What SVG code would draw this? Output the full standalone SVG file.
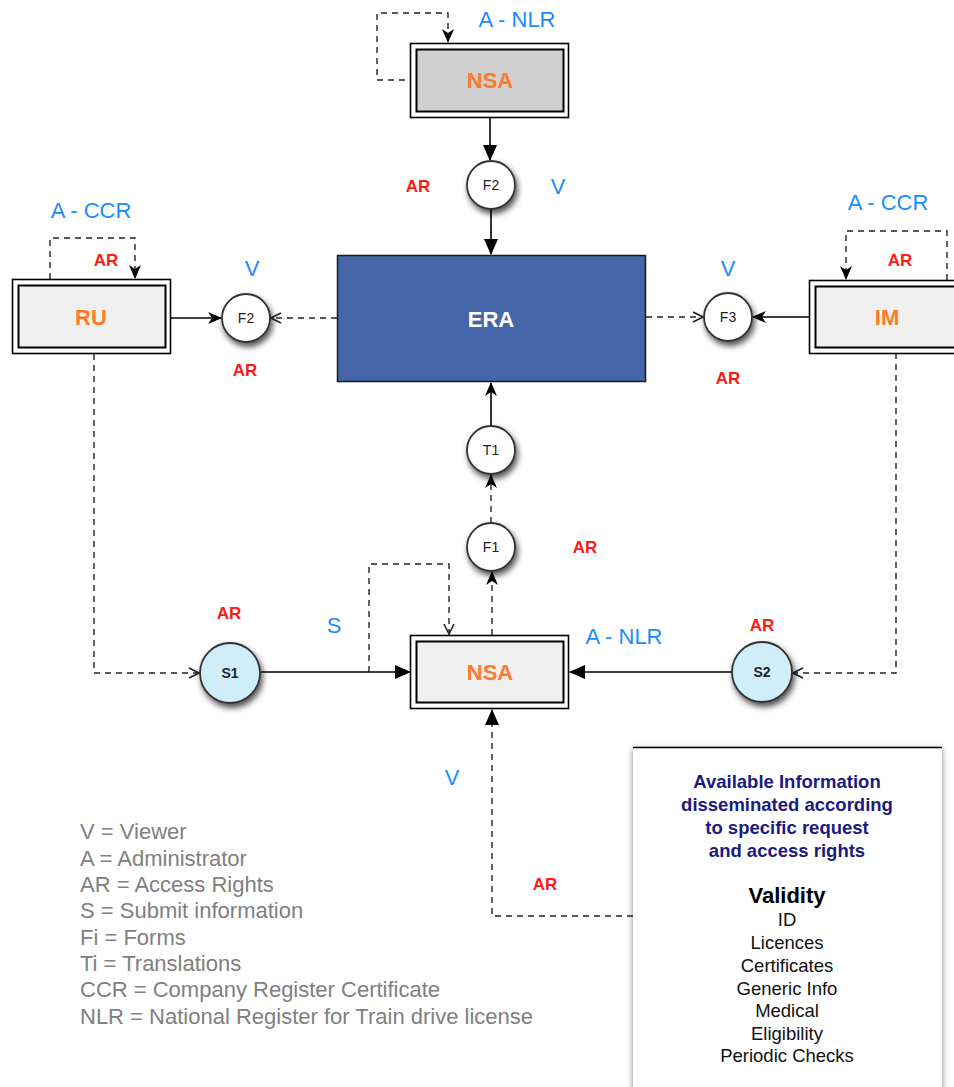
<svg xmlns="http://www.w3.org/2000/svg" width="954" height="1087" viewBox="0 0 954 1087">
<defs>
<marker id="tri" markerUnits="userSpaceOnUse" markerWidth="16" markerHeight="14" refX="15" refY="7" orient="auto"><path d="M0,0 L16,7 L0,14 z" fill="#000"/></marker>
<marker id="barb" markerUnits="userSpaceOnUse" markerWidth="14" markerHeight="12" refX="13" refY="6" orient="auto"><path d="M0,0 L14,6 L0,12 L4,6 z" fill="#000"/></marker>
<marker id="vee" markerUnits="userSpaceOnUse" markerWidth="12" markerHeight="12" refX="11" refY="6" orient="auto"><path d="M1,1 L11,6 L1,11" fill="none" stroke="#222" stroke-width="1.6"/></marker>
<filter id="sh" x="-50%" y="-50%" width="200%" height="200%"><feGaussianBlur in="SourceAlpha" stdDeviation="3"/><feOffset dx="2" dy="4"/><feComponentTransfer><feFuncA type="linear" slope="0.7"/></feComponentTransfer><feMerge><feMergeNode/><feMergeNode in="SourceGraphic"/></feMerge></filter>
<filter id="bsh" x="-10%" y="-10%" width="120%" height="120%"><feGaussianBlur in="SourceAlpha" stdDeviation="3"/><feOffset dx="0" dy="2"/><feComponentTransfer><feFuncA type="linear" slope="0.5"/></feComponentTransfer><feMerge><feMergeNode/><feMergeNode in="SourceGraphic"/></feMerge></filter>
</defs>
<style>
text{font-family:"Liberation Sans",Arial,sans-serif;}
.solid{fill:none;stroke:#000;stroke-width:1.6;}
.dash{fill:none;stroke:#222;stroke-width:1.4;stroke-dasharray:6,5;}
.outer{fill:#fff;stroke:#000;stroke-width:1.6;}
.inner{stroke:#000;stroke-width:2;}
.lbl{fill:#ff7a2a;font-weight:bold;font-size:22px;text-anchor:middle;}
.blue{fill:#1a8cff;font-size:22px;text-anchor:middle;}
.ar{fill:#ff1a1a;font-weight:bold;font-size:17px;text-anchor:middle;}
.circ{fill:#fff;stroke:#333;stroke-width:1.8;}
.ctext{font-size:14px;text-anchor:middle;fill:#222;}
.legend{fill:#808080;font-size:22px;}
.info{fill:#1a1a80;font-weight:bold;font-size:18.5px;text-anchor:middle;}
.item{fill:#111;font-size:18.5px;text-anchor:middle;}
</style>

<g id="connectors">
<polyline class="dash" points="416,80 377,80 377,13 448,13 448,42" marker-end="url(#barb)"/>
<line class="solid" x1="490" y1="117" x2="490" y2="160" marker-end="url(#tri)"/>
<line class="solid" x1="491" y1="209" x2="491" y2="254" marker-end="url(#tri)"/>
<polyline class="dash" points="50,279 50,238 135,238 135,278" marker-end="url(#barb)"/>
<line class="solid" x1="171" y1="318" x2="221" y2="318" marker-end="url(#barb)"/>
<line class="dash" x1="337" y1="318" x2="271" y2="318" marker-end="url(#vee)"/>
<polyline class="dash" points="947,280 947,231 846,231 846,279" marker-end="url(#barb)"/>
<line class="solid" x1="809" y1="317" x2="753" y2="317" marker-end="url(#barb)"/>
<line class="dash" x1="646" y1="317" x2="703" y2="317" marker-end="url(#vee)"/>
<line class="solid" x1="491" y1="426" x2="491" y2="383" marker-end="url(#barb)"/>
<line class="dash" x1="491" y1="523" x2="491" y2="475" marker-end="url(#barb)"/>
<line class="dash" x1="492" y1="635" x2="492" y2="572" marker-end="url(#barb)"/>
<polyline class="dash" points="369,672 369,564 449,564 449,634" marker-end="url(#vee)"/>
<line class="solid" x1="261" y1="672" x2="410" y2="672" marker-end="url(#tri)"/>
<line class="solid" x1="732" y1="672" x2="570" y2="672" marker-end="url(#tri)"/>
<polyline class="dash" points="94,354 94,673 199,673" marker-end="url(#vee)"/>
<polyline class="dash" points="896,353 896,673 793,673" marker-end="url(#vee)"/>
<polyline class="dash" points="633,916 492,916 492,710" marker-end="url(#tri)"/>
</g>

<g id="nsa-top">
<rect class="outer" x="410.5" y="43.5" width="158" height="74"/>
<rect class="inner" x="416.5" y="49.5" width="147" height="62" fill="#d0d0d0"/>
<text class="lbl" x="490" y="88">NSA</text>
<text class="blue" x="517" y="27">A - NLR</text>
</g>

<g id="f2-top">
<circle class="circ" cx="491" cy="185" r="24" filter="url(#sh)"/>
<text class="ctext" x="491" y="190">F2</text>
<text class="ar" x="418" y="192">AR</text>
<text class="blue" x="558" y="194">V</text>
</g>

<g id="era">
<rect x="337.5" y="255.5" width="308" height="126" fill="#4567a9" stroke="#1a1a1a" stroke-width="1.5"/>
<text x="491" y="327" fill="#fff" font-weight="bold" font-size="22" text-anchor="middle">ERA</text>
</g>

<g id="ru">
<rect class="outer" x="12.5" y="279.5" width="158" height="74"/>
<rect class="inner" x="18.5" y="285.5" width="147" height="62" fill="#f0f0f0"/>
<text class="lbl" x="91" y="325">RU</text>
<text class="blue" x="91" y="218">A - CCR</text>
<text class="ar" x="106" y="266">AR</text>
</g>

<g id="f2-left">
<circle class="circ" cx="246" cy="318" r="24" filter="url(#sh)"/>
<text class="ctext" x="246" y="323">F2</text>
<text class="blue" x="252" y="276">V</text>
<text class="ar" x="245" y="376">AR</text>
</g>

<g id="im">
<rect class="outer" x="809.5" y="280.5" width="158" height="73"/>
<rect class="inner" x="815.5" y="286.5" width="147" height="61" fill="#f0f0f0"/>
<text class="lbl" x="887" y="325">IM</text>
<text class="blue" x="888" y="210">A - CCR</text>
<text class="ar" x="900" y="266">AR</text>
</g>

<g id="f3">
<circle class="circ" cx="728" cy="317" r="24" filter="url(#sh)"/>
<text class="ctext" x="728" y="322">F3</text>
<text class="blue" x="728" y="276">V</text>
<text class="ar" x="728" y="384">AR</text>
</g>

<g id="t1">
<circle class="circ" cx="491" cy="450" r="24" filter="url(#sh)"/>
<text class="ctext" x="491" y="455">T1</text>
</g>

<g id="f1">
<circle class="circ" cx="491" cy="547" r="24" filter="url(#sh)"/>
<text class="ctext" x="491" y="552">F1</text>
<text class="ar" x="585" y="553">AR</text>
</g>

<g id="nsa-bottom">
<rect class="outer" x="410.5" y="635.5" width="158" height="73"/>
<rect class="inner" x="416.5" y="641.5" width="147" height="61" fill="#f0f0f0"/>
<text class="lbl" x="490" y="680">NSA</text>
<text class="blue" x="624" y="644">A - NLR</text>
<text class="blue" x="334" y="633">S</text>
</g>

<g id="s1">
<circle cx="230" cy="673" r="30" fill="#cfeefa" stroke="#333" stroke-width="1.8" filter="url(#sh)"/>
<text class="ctext" x="230" y="678" font-weight="bold">S1</text>
<text class="ar" x="229" y="619">AR</text>
</g>

<g id="s2">
<circle cx="762" cy="672" r="30" fill="#cfeefa" stroke="#333" stroke-width="1.8" filter="url(#sh)"/>
<text class="ctext" x="762" y="677" font-weight="bold">S2</text>
<text class="ar" x="762" y="631">AR</text>
</g>

<g id="labels">
<text class="blue" x="452" y="785">V</text>
<text class="ar" x="545" y="890">AR</text>
</g>

<g id="info">
<rect x="633" y="747" width="309" height="360" fill="#fff" filter="url(#bsh)"/>
<line x1="633" y1="747.5" x2="942" y2="747.5" stroke="#000" stroke-width="1.5"/>
<text class="info" x="787" y="788">Available Information</text>
<text class="info" x="787" y="811">disseminated according</text>
<text class="info" x="787" y="834">to specific request</text>
<text class="info" x="787" y="857">and access rights</text>
<text x="787" y="903" font-weight="bold" font-size="22" text-anchor="middle" fill="#000">Validity</text>
<text class="item" x="787" y="926">ID</text>
<text class="item" x="787" y="949">Licences</text>
<text class="item" x="787" y="972">Certificates</text>
<text class="item" x="787" y="995">Generic Info</text>
<text class="item" x="787" y="1017">Medical</text>
<text class="item" x="787" y="1040">Eligibility</text>
<text class="item" x="787" y="1062">Periodic Checks</text>
</g>

<g id="legend">
<text class="legend" x="80" y="839">V = Viewer</text>
<text class="legend" x="80" y="866">A = Administrator</text>
<text class="legend" x="80" y="892">AR = Access Rights</text>
<text class="legend" x="80" y="918">S = Submit information</text>
<text class="legend" x="80" y="945">Fi = Forms</text>
<text class="legend" x="80" y="971">Ti = Translations</text>
<text class="legend" x="80" y="997">CCR = Company Register Certificate</text>
<text class="legend" x="80" y="1024">NLR = National Register for Train drive license</text>
</g>
</svg>
